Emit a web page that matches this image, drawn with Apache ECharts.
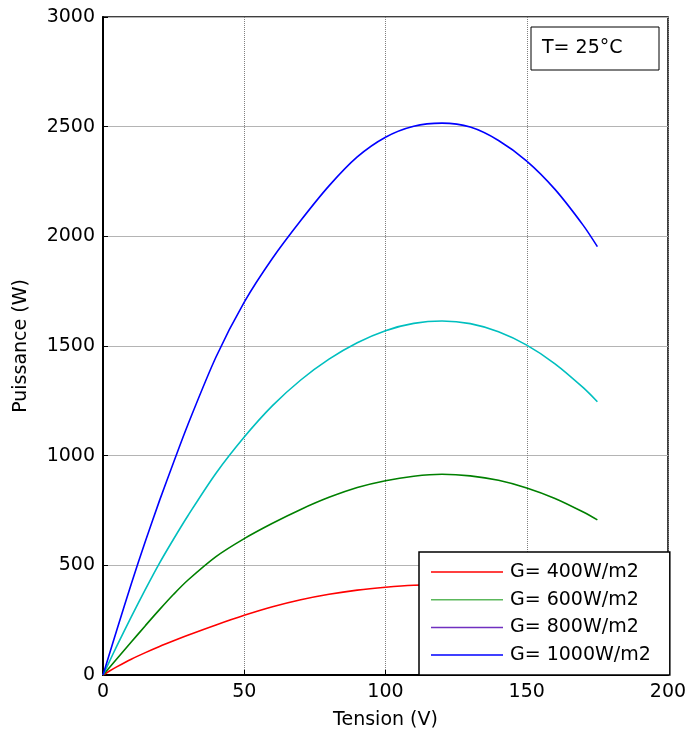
<!DOCTYPE html>
<html>
<head>
<meta charset="utf-8">
<script src="https://cdn.jsdelivr.net/npm/echarts@6/dist/echarts.min.js"></script>
<style>
  html, body { margin: 0; padding: 0; background: #fff; }
  #chart { width: 690px; height: 731px; }
</style>
</head>
<body>
<div id="chart"></div>
<script>
// tension (V)
var tension = [0, 2, 5, 10, 15, 20, 25, 30, 40, 50, 60, 70, 80, 90, 100, 110, 120, 130, 140, 150, 160, 170, 175];
// puissance (W) for each irradiance
var p400  = [0, 16, 38, 72, 102, 130, 156, 181, 228, 272, 311, 343, 368, 387, 400, 409, 412, 409, 400, 386, 365, 338, 322];
var p600  = [0, 30, 75, 150, 225, 298, 368, 432, 540, 622, 692, 755, 810, 855, 886, 906, 915, 908, 888, 853, 805, 743, 707];
var p800  = [0, 54, 135, 265, 390, 510, 620, 725, 920, 1085, 1228, 1345, 1440, 1515, 1570, 1603, 1614, 1602, 1565, 1504, 1419, 1310, 1246];
var p1000 = [0, 84, 210, 415, 610, 795, 970, 1140, 1450, 1700, 1900, 2072, 2230, 2362, 2452, 2502, 2516, 2498, 2437, 2343, 2214, 2050, 1953];
var names = ['G= 400W/m2', 'G= 600W/m2', 'G= 800W/m2', 'G= 1000W/m2'];
var lineColors = ['#ff0000', '#008000', '#00bfbf', '#0000ff'];
var legendColors = ['#ff0000', '#5cb85c', '#7030c0', '#0000ff'];

var FONT = '"DejaVu Sans", sans-serif';
var FS = 19;

function pairs(ys) {
  return tension.map(function (v, i) { return [v, ys[i]]; });
}

var chart = echarts.init(document.getElementById('chart'));
var allData = [p400, p600, p800, p1000];

var series = allData.map(function (ys, i) {
  return {
    name: names[i],
    type: 'line',
    data: pairs(ys),
    symbol: 'none',
    smooth: 0.3,
    color: lineColors[i],
    lineStyle: { width: 1.6, color: lineColors[i] }
  };
});

chart.setOption({
  animation: false,
  textStyle: { fontFamily: FONT },
  grid: { left: 103, right: 22, top: 17, bottom: 56, show: true, borderColor: '#000', borderWidth: 1.5,
    outerBoundsMode: 'none' },
  xAxis: {
    type: 'value', min: 0, max: 200, interval: 50,
    name: 'Tension (V)', nameLocation: 'middle', nameGap: 36,
    nameTextStyle: { fontSize: FS, color: '#000', fontFamily: FONT },
    axisLine: { show: true, lineStyle: { color: '#000', width: 2 } },
    axisTick: { show: true, inside: true, length: 5, lineStyle: { color: '#000' } },
    axisLabel: { fontSize: FS, color: '#000', margin: 8, fontFamily: FONT },
    splitLine: { show: true, lineStyle: { color: '#808080', type: 'dotted', width: 1 } }
  },
  yAxis: {
    type: 'value', min: 0, max: 3000, interval: 500,
    name: 'Puissance (W)', nameLocation: 'middle', nameGap: 72, nameRotate: 90,
    nameTextStyle: { fontSize: FS, color: '#000', fontFamily: FONT },
    axisLine: { show: true, lineStyle: { color: '#000', width: 2 } },
    axisTick: { show: true, inside: true, length: 5, lineStyle: { color: '#000' } },
    axisLabel: { fontSize: FS, color: '#000', margin: 8, fontFamily: FONT,
      formatter: function (v) { return String(v); } },
    splitLine: { show: true, lineStyle: { color: '#b4b4b4', type: 'solid', width: 1.2 } }
  },
  legend: {
    orient: 'vertical',
    left: 419, top: 552,
    padding: [10, 19, 10, 12],
    icon: 'rect',
    itemWidth: 72, itemHeight: 1.5, itemGap: 7.7,
    backgroundColor: '#fff',
    borderColor: '#000', borderWidth: 1.5,
    textStyle: { fontSize: FS, lineHeight: 20, color: '#000', fontFamily: FONT, padding: [0, 0, 0, 2] },
    data: names.map(function (n, i) {
      return { name: n, itemStyle: { color: legendColors[i] } };
    })
  },
  graphic: [
    { type: 'rect', shape: { x: 531, y: 27, width: 128, height: 43 },
      style: { fill: '#fff', stroke: '#000', lineWidth: 1 }, z: 100 },
    { type: 'text', x: 542, y: 48,
      style: { text: 'T= 25°C', fill: '#000', font: FS + 'px ' + FONT, textVerticalAlign: 'middle' }, z: 101 }
  ],
  series: series
});
</script>
</body>
</html>
